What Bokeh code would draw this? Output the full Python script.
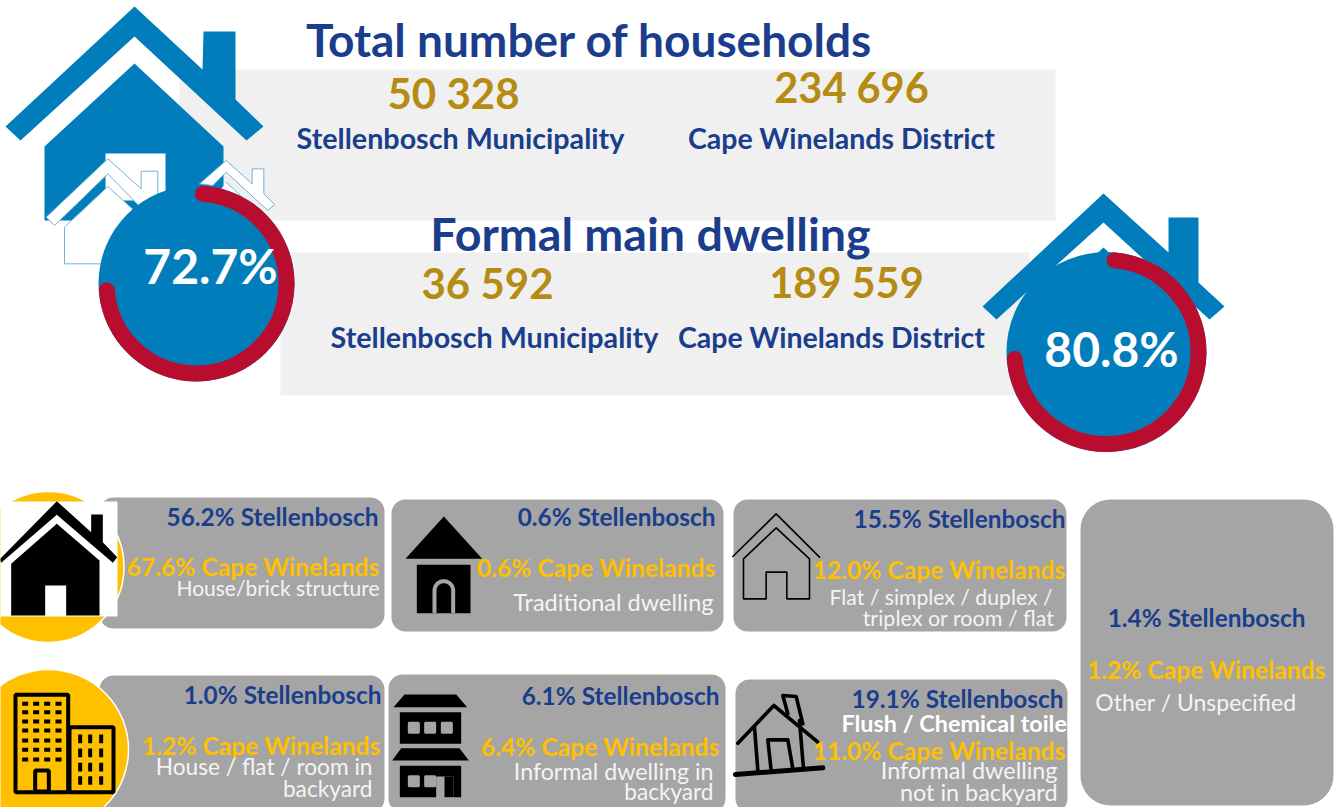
import numpy as np
from bokeh.plotting import figure
from bokeh.embed import file_html
from bokeh.resources import INLINE
from bokeh.core.properties import value

# ---- values ----
total_title = "Total number of households"
formal_title = "Formal main dwelling"
areas = ["Stellenbosch Municipality", "Cape Winelands District"]
total_households = ["50 328", "234 696"]
formal_households = ["36 592", "189 559"]
formal_share = ["72.7%", "80.8%"]
ring_sweep_pct = [72.7, 72.4]      # share of the ring as it is drawn
stellenbosch_pct = [56.2, 0.6, 15.5, 1.0, 6.1, 19.1, 1.4]
winelands_pct = [67.6, 0.6, 12.0, 1.2, 6.4, 11.0, 1.2]
dwelling_lines = [
    ["House/brick structure"],
    ["Traditional dwelling"],
    ["Flat / simplex / duplex /", "triplex or room / flat"],
    ["House / flat / room in", "backyard"],
    ["Informal dwelling in", "backyard"],
    ["Informal dwelling", "not in backyard"],
    ["Other / Unspecified"],
]
extra_label = "Flush / Chemical toilet"

# ---- styles ----
NAVY, GOLD, BLUE, RED = "#1A3E8C", "#B58B12", "#027DBC", "#B90D30"
YELLOW, GREY, PANEL, LIGHT = "#FFC000", "#A5A5A5", "#F0F0F0", "#F4F4F4"
FONT = value("Lato")
W, H = 1344, 807

p = figure(width=W, height=H, x_range=(1, W + 1), y_range=(0, H), toolbar_location=None,
           output_backend="svg", min_border=0, outline_line_color=None,
           background_fill_color="white", border_fill_color="white")
p.axis.visible = False
p.grid.visible = False


def Y(v):
    return H - np.asarray(v, dtype=float)


def poly(pts, fill, line=None, lw=1.0, ox=0, oy=0, s=1.0):
    xs = [ox + a * s for a, _ in pts]
    ys = [H - (oy + b * s) for _, b in pts]
    p.patch(xs, ys, fill_color=fill, line_color=line, line_width=lw)


def pline(pts, color="black", lw=2.0, ox=0, oy=0, s=1.0, cap="round"):
    xs = [ox + a * s for a, _ in pts]
    ys = [H - (oy + b * s) for _, b in pts]
    p.line(xs, ys, line_color=color, line_width=lw, line_cap=cap, line_join="round")


def rrect(x0, y0, x1, y1, r, fill):
    t = np.linspace(0, np.pi / 2, 10)
    xs = np.concatenate([x1 - r + r * np.sin(t), x1 - r + r * np.cos(t), x0 + r - r * np.sin(t), x0 + r - r * np.cos(t)])
    ys = np.concatenate([y0 + r - r * np.cos(t), y1 - r + r * np.sin(t), y1 - r + r * np.cos(t), y0 + r - r * np.sin(t)])
    p.patch(xs, H - ys, fill_color=fill, line_color=None)


def txt(x, y, s, size, color, bold=True, align="center"):
    dy = 2 if size >= 28 else 1
    p.text([x], [H - (y - dy)], text=[s], text_font=FONT, text_font_size=f"{size}px", text_color=color,
           text_font_style="bold" if bold else "normal", text_align=align, text_baseline="middle")


def disc(cx, cy, r, fill, line=None, lw=0):
    p.circle([cx], [H - cy], radius=r, fill_color=fill, line_color=line, line_width=lw)


def ring(cx, cy, r, pct, start_deg):
    a0 = np.deg2rad(90 - start_deg)
    a1 = a0 - 2 * np.pi * pct / 100
    p.arc([cx], [H - cy], radius=r, start_angle=a0, end_angle=a1, direction="clock",
          line_color=RED, line_width=16, line_cap="round")


# ---- top panels ----
p.quad(left=[180, 281], right=[1056, 1030], top=Y([69, 252]), bottom=Y([220, 395]),
       fill_color=PANEL, line_color=None)

# big house
poly([(6, 126), (135, 6), (203, 69), (204, 31), (236, 31), (236, 99), (264, 126), (247, 140), (135, 36), (21, 140)], BLUE)
poly([(45, 146), (135, 63), (224, 146), (224, 220), (45, 220)], BLUE)
poly([(106, 153), (166, 153), (166, 200), (106, 200)], "white")
# small white houses
ED = "#6FB2D8"
poly([(195, 680), (325, 558), (470, 690), (470, 790), (195, 790)], "white", ED, 1, 0, 0, 1 / 3)
poly([(140, 650), (325, 475), (425, 565), (425, 512), (475, 512), (475, 612), (530, 670), (500, 700),
      (325, 520), (165, 675)], "white", ED, 1, 0, 0, 1 / 3)
poly([(600, 550), (680, 480), (758, 550), (758, 505), (793, 505), (793, 580), (825, 612), (805, 630),
      (680, 515), (640, 555)], "white", ED, 1, 0, 0, 1 / 3)
poly([(640, 600), (680, 545), (770, 630), (700, 700)], "white", None, 1, 0, 0, 1 / 3)
pline([(680, 545), (765, 625)], ED, 1, 0, 0, 1 / 3)

# second house
poly([(983, 306), (1104, 193), (1169, 252), (1169, 217), (1199, 217), (1199, 282), (1225, 306), (1210, 319),
      (1104, 222), (997, 319)], BLUE)
poly([(1088, 262), (1104, 247), (1120, 262)], BLUE)

# rings
disc(197, 283, 98, BLUE)
ring(197, 283, 90, ring_sweep_pct[0], 4)
disc(1107, 351.5, 100, BLUE)
ring(1107, 351.5, 92, ring_sweep_pct[1], 5)
txt(211, 267, formal_share[0], 48, "white")
txt(1112, 350, formal_share[1], 48, "white")

# top texts
txt(590, 41, total_title, 46, NAVY)
txt(454, 94, total_households[0], 42, GOLD)
txt(852, 88, total_households[1], 41.5, GOLD)
txt(461, 139, areas[0], 28.7, NAVY)
txt(842, 139, areas[1], 28.5, NAVY)
txt(651, 234, formal_title, 46.6, NAVY)
txt(488, 284, formal_households[0], 42, GOLD)
txt(847, 283, formal_households[1], 41.5, GOLD)
txt(495, 338, areas[0], 28.7, NAVY)
txt(832, 338, areas[1], 28.5, NAVY)

# ---- cards ----
rrect(100, 497, 385, 628, 14, GREY)
rrect(392, 499, 724, 631, 14, GREY)
rrect(734, 499, 1067, 631, 14, GREY)
rrect(1081, 499, 1334, 805, 30, GREY)
rrect(100, 675, 385, 812, 14, GREY)
rrect(389, 674, 726, 812, 14, GREY)
rrect(736, 679, 1068, 812, 14, GREY)

# yellow discs
disc(49, 566.5, 75.5, YELLOW, "white", 1.5)
disc(49, 749, 80, YELLOW, "white", 1.5)

# icon 1 : black house on white
p.quad(left=[0], right=[118], top=Y([501]), bottom=Y([616]), fill_color="white", line_color=None)
Z3 = dict(ox=0, oy=485, s=1 / 3)
poly([(0, 222), (172, 47), (275, 140), (275, 87), (310, 87), (310, 170), (353, 215), (340, 232),
      (172, 88), (5, 232)], "black", **Z3)
poly([(35, 235), (172, 115), (300, 225), (300, 390), (200, 390), (200, 300), (137, 300), (137, 390), (35, 390)],
     "black", **Z3)

# icon 2 : block of flats
def box(x0, y0, x1, y1, fill, line=None, lw=1.0, ox=0, oy=0, s=1 / 3):
    poly([(x0, y0), (x1, y0), (x1, y1), (x0, y1)], fill, line, lw, ox, oy, s)


box(48, 628, 206, 920, YELLOW, "black", 4, **Z3)
box(210, 725, 342, 920, YELLOW, "black", 4, **Z3)
box(107, 855, 148, 918, YELLOW, "black", 4, **Z3)
for wy in (655, 680, 708, 735, 765, 793, 822):
    for wx in (77, 110, 143, 177):
        box(wx - 9, wy - 6, wx + 9, wy + 6, "black", **Z3)
for wy in (760, 802, 845, 885):
    for wx in (242, 272, 305):
        box(wx - 6, wy - 13, wx + 6, wy + 13, "black", **Z3)

# icon 3 : traditional dwelling
Z4 = dict(ox=385, oy=490, s=1 / 3)
poly([(63, 205), (178, 78), (293, 205)], "black", **Z4)
box(97, 223, 258, 368, "black", **Z4)
ang = np.linspace(np.pi, 0, 20)
arch = [(150, 368)] + [(178 + 28 * np.cos(a), 300 - 28 * np.sin(a)) for a in ang] + [(206, 368)]
pline(arch, GREY, 4, cap="butt", **Z4)

# icon 4 : two-storey informal dwelling
poly([(27, 650), (60, 612), (215, 612), (248, 650)], "black", **Z4)
box(46, 665, 230, 760, "black", **Z4)
poly([(23, 810), (50, 773), (225, 773), (253, 810)], "black", **Z4)
poly([(46, 826), (230, 826), (230, 920), (207, 920), (207, 858), (155, 858), (155, 920), (46, 920)], "black", **Z4)
poly([(180, 858), (207, 858), (207, 920), (180, 920)], "black", **Z4)
for wx, wy in ((88, 712), (137, 712), (187, 712), (88, 872), (137, 872)):
    box(wx - 15, wy - 15, wx + 15, wy + 15, GREY, GREY, 2, **Z4)

# icon 5 : outline house
Z5 = dict(ox=725, oy=490, s=1 / 3)
pline([(25, 198), (155, 70), (285, 200)], "black", 1.6, **Z5)
pline([(57, 325), (57, 205), (155, 112), (255, 205), (255, 325), (187, 325), (187, 245), (125, 245), (125, 325),
       (57, 325)], "black", 1.6, **Z5)

# icon 6 : sketched house
pline([(33, 852), (295, 832)], "black", 5, **Z5)
pline([(40, 758), (148, 645), (280, 755)], "black", 3.6, **Z5)
pline([(190, 670), (175, 615), (215, 618), (235, 700)], "black", 3.6, **Z5)
pline([(90, 710), (100, 840)], "black", 3.6, **Z5)
pline([(225, 690), (237, 835)], "black", 3.6, **Z5)
pline([(140, 840), (130, 748), (190, 748), (205, 835)], "black", 3.6, **Z5)

# card texts: order = card index in the value lists
layout = [
    (379, 517, 380, 567, [(380, 588, 21)]),
    (716, 517, 716, 568, [(714, 602, 23.5)]),
    (1066, 519, 1066, 570, [(1053, 597, 21.2), (1055, 618, 21.5)]),
    (382, 695, 381, 746, [(373, 767, 22.7), (373, 789, 22.7)]),
    (720, 696, 720, 747, [(714, 771, 23.2), (714, 792, 22.6)]),
    (1064, 699, 1066, 751, [(1058, 770, 23.4), (1058, 792, 23.4)]),
    (1306, 618, 1326, 670, [(1297, 702, 23)]),
]
for i, (xs_, ys_, xw, yw, rows) in enumerate(layout):
    txt(xs_, ys_, f"{stellenbosch_pct[i]:.1f}% Stellenbosch", 24.4, NAVY, True, "right")
    txt(xw, yw, f"{winelands_pct[i]:.1f}% Cape Winelands", 24.6, YELLOW, True, "right")
    for (xr, yr, sz), line in zip(rows, dwelling_lines[i]):
        txt(xr, yr, line, sz, LIGHT, False, "right")

txt(842, 723, extra_label, 23.4, "white", True, "left")
p.quad(left=[1068], right=[1080], top=Y([710]), bottom=Y([738]), fill_color="white", line_color=None)

open("out.html", "w").write(file_html(p, INLINE))
